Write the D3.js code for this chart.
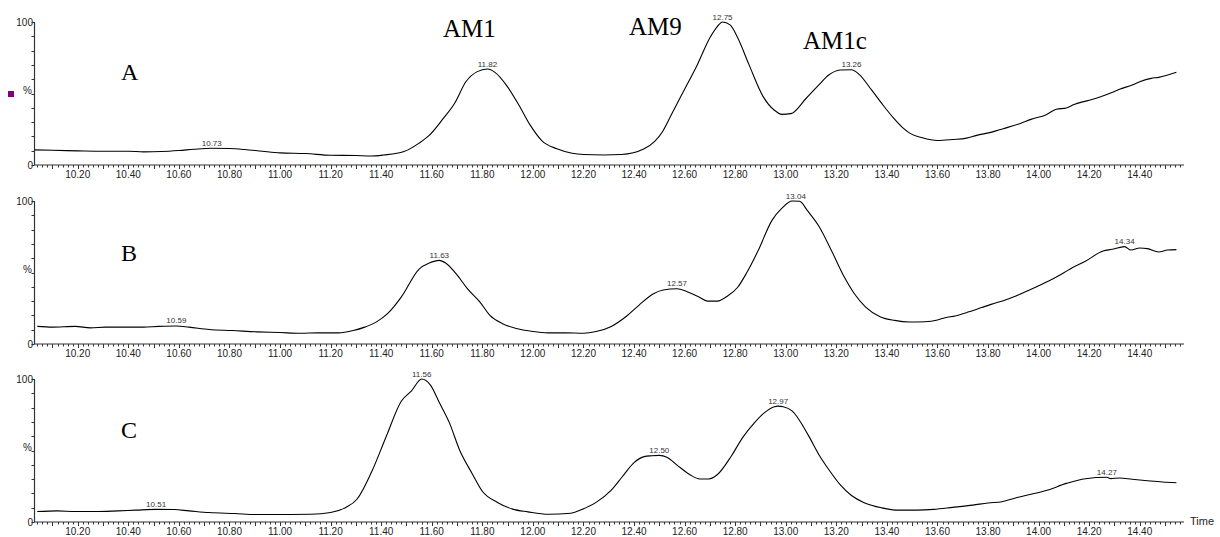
<!DOCTYPE html>
<html>
<head>
<meta charset="utf-8">
<script src="https://cdn.jsdelivr.net/npm/d3@7"></script>
<style>
  body { margin: 0; background: #fff; }
  svg { display: block; }
</style>
</head>
<body>
<svg id="chart" width="1220" height="537"></svg>
<script>
// retention time (min), relative intensity (%)
const traceA = [
  [10.03,10.6],[10.10,10.3],[10.20,9.9],[10.30,9.6],[10.40,9.6],[10.46,9.2],[10.53,9.4],[10.60,10.1],
  [10.66,11.0],[10.73,11.7],[10.80,11.5],[10.86,10.8],[10.93,9.6],[11.00,8.5],[11.10,8.0],[11.20,6.8],
  [11.30,6.6],[11.36,6.3],[11.41,7.0],[11.49,9.4],[11.55,15.3],[11.59,20.7],[11.645,32.4],[11.69,43],
  [11.735,58.2],[11.78,65.3],[11.82,67.1],[11.85,64.8],[11.895,55.9],[11.945,41.8],[11.99,27.7],
  [12.035,17.1],[12.095,11.3],[12.155,8.2],[12.20,7.3],[12.28,7.0],[12.35,7.3],[12.44,11.3],
  [12.515,24],[12.55,36],[12.60,53],[12.65,70],[12.70,89],[12.73,97],[12.75,100],[12.78,98],
  [12.81,89],[12.855,70],[12.91,48],[12.955,38.3],[12.985,35.4],[13.02,35.9],[13.08,46.5],[13.13,55.9],
  [13.17,62.9],[13.215,66.4],[13.26,66.6],[13.29,63.4],[13.34,52.3],[13.385,41.8],[13.425,33.1],
  [13.46,26.5],[13.49,22.3],[13.54,19],[13.60,17.1],[13.66,17.8],[13.715,18.8],[13.755,20.7],
  [13.815,23],[13.86,25.4],[13.925,28.9],[13.97,31.9],[14.03,35.2],[14.07,39],[14.11,39.9],
  [14.14,42.3],[14.20,45.3],[14.245,47.7],[14.29,50.7],[14.32,53],[14.37,55.9],[14.40,58.2],
  [14.445,60.6],[14.475,61.3],[14.545,64.8]
];
const traceB = [
  [10.04,12.3],[10.10,11.8],[10.19,12.3],[10.25,11.3],[10.31,11.8],[10.39,11.8],[10.46,11.8],[10.52,12.3],
  [10.59,12.6],[10.64,11.8],[10.72,10.1],[10.81,9.4],[10.91,8.5],[11.00,8.0],[11.08,7.5],[11.15,7.8],
  [11.23,7.8],[11.29,9.4],[11.335,11.8],[11.38,15.3],[11.425,21.2],[11.48,33],[11.55,52.4],[11.59,56.6],
  [11.63,58.5],[11.655,56.6],[11.70,48.3],[11.74,38.9],[11.79,29.5],[11.83,20],[11.88,14.2],[11.94,10.6],
  [12.00,8.7],[12.06,7.8],[12.13,7.8],[12.20,7.5],[12.25,8.7],[12.31,12.3],[12.37,19.4],[12.42,27.2],
  [12.475,35],[12.515,37.8],[12.57,38.6],[12.61,36.6],[12.655,33.1],[12.69,30],[12.73,30],[12.77,33.6],
  [12.81,39.7],[12.845,49.6],[12.89,65],[12.945,86.3],[12.985,95],[13.025,100],[13.055,99.8],[13.085,93.4],
  [13.13,82.7],[13.185,63.8],[13.23,47.3],[13.27,35.5],[13.315,26],[13.375,18.9],[13.43,16.5],[13.49,15.4],
  [13.55,15.6],[13.60,16.8],[13.63,18.4],[13.67,19.6],[13.725,22.5],[13.775,25.5],[13.815,27.9],
  [13.86,30.3],[13.91,33.6],[13.955,37.1],[14.00,40.7],[14.07,46.8],[14.125,52.5],[14.185,57.9],
  [14.255,65],[14.29,66.2],[14.34,68.1],[14.365,65.7],[14.40,67.1],[14.43,66.7],[14.475,64.3],
  [14.51,65.7],[14.545,66]
];
const traceC = [
  [10.04,7.3],[10.12,7.8],[10.19,7.3],[10.27,7.3],[10.36,7.8],[10.43,8.3],[10.51,8.8],[10.58,8.7],
  [10.64,7.8],[10.72,6.6],[10.82,5.9],[10.91,5.2],[11.00,5.2],[11.12,5.4],[11.20,6.6],[11.26,10.2],
  [11.305,16.1],[11.365,36.2],[11.42,59.8],[11.48,84.6],[11.52,91.7],[11.56,100],[11.595,95.7],
  [11.63,83.5],[11.67,69.3],[11.71,50.4],[11.76,33.8],[11.80,21.5],[11.86,13.7],[11.92,9],[11.98,7.1],
  [12.06,5.4],[12.15,6.1],[12.19,8.5],[12.25,13.7],[12.31,22.3],[12.355,32],[12.40,41.5],[12.44,45.7],
  [12.47,46.3],[12.50,46.6],[12.53,45.3],[12.57,39.8],[12.62,33.2],[12.66,30.1],[12.695,30.1],
  [12.73,33.2],[12.785,46.2],[12.83,59.2],[12.875,69.2],[12.915,76.3],[12.955,80.6],[12.97,81],
  [12.99,80.6],[13.025,77.7],[13.09,60.4],[13.13,47.4],[13.17,36.7],[13.215,26.1],[13.26,18.5],
  [13.31,13.5],[13.38,9.9],[13.445,8.3],[13.52,8.3],[13.585,8.8],[13.66,10.2],[13.74,11.8],[13.80,13.3],
  [13.855,14.2],[13.915,17.1],[13.97,19.4],[14.03,22],[14.11,27],[14.185,30.3],[14.27,31.3],
  [14.285,30.3],[14.32,30.8],[14.37,29.9],[14.43,28.9],[14.49,28],[14.545,27.5]
];

const peaksA = [10.73, 11.82, 12.75, 13.26];
const peaksB = [10.59, 11.63, 12.57, 13.04, 14.34];
const peaksC = [10.51, 11.56, 12.50, 12.97, 14.27];

const panelNames = ["A", "B", "C"];
const compounds = ["AM1", "AM9", "AM1c"];
const timeTicks = d3.range(10.2, 14.41, 0.2);

const panels = [
  { name: panelNames[0], trace: traceA, peaks: peaksA, top: 22 },
  { name: panelNames[1], trace: traceB, peaks: peaksB, top: 201 },
  { name: panelNames[2], trace: traceC, peaks: peaksC, top: 379 },
];

const svg = d3.select("#chart");
const sans = "'Liberation Sans', Arial, sans-serif";
const serif = "'Liberation Serif', 'Times New Roman', serif";
const axisColor = "#333";

const x = d3.scaleLinear().domain([10.027, 14.575]).range([34, 1184]);
const panelHeight = 143;

const minorTicks = d3.range(10.04, 14.575, 0.02).map((d) => +d.toFixed(2));

panels.forEach((p, i) => {
  const bottom = p.top + panelHeight;
  const y = d3.scaleLinear().domain([0, 100]).range([bottom, p.top]);
  const g = svg.append("g");

  // x axis
  g.append("line")
    .attr("x1", x.range()[0]).attr("x2", x.range()[1])
    .attr("y1", bottom).attr("y2", bottom)
    .attr("stroke", axisColor).attr("stroke-width", 1);

  g.append("g")
    .selectAll("line")
    .data(minorTicks)
    .join("line")
    .attr("x1", (d) => Math.round(x(d)) + 0.5)
    .attr("x2", (d) => Math.round(x(d)) + 0.5)
    .attr("y1", bottom)
    .attr("y2", (d) => bottom + (Math.abs(d * 10 - Math.round(d * 10)) < 1e-6 ? 4 : 2.5))
    .attr("stroke", axisColor)
    .attr("stroke-width", 1);

  g.append("g")
    .selectAll("text")
    .data(timeTicks)
    .join("text")
    .attr("x", (d) => x(d))
    .attr("y", bottom + 13)
    .attr("text-anchor", "middle")
    .attr("font-family", sans)
    .attr("font-size", 10)
    .attr("fill", "#222")
    .text((d) => d.toFixed(2));

  // y axis
  g.append("line")
    .attr("x1", 34.5).attr("x2", 34.5)
    .attr("y1", p.top).attr("y2", bottom)
    .attr("stroke", axisColor).attr("stroke-width", 1.2);

  g.append("g")
    .selectAll("line")
    .data(d3.range(0, 101, 10))
    .join("line")
    .attr("x1", 31.5).attr("x2", 34.5)
    .attr("y1", (d) => Math.round(y(d)) + 0.5)
    .attr("y2", (d) => Math.round(y(d)) + 0.5)
    .attr("stroke", axisColor);

  const yLab = g.append("g")
    .attr("font-family", sans)
    .attr("font-size", 10)
    .attr("fill", "#222")
    .attr("text-anchor", "end");
  yLab.append("text").attr("x", 33).attr("y", y(100) + 4).text("100");
  yLab.append("text").attr("x", 33).attr("y", y(0) + 4).text("0");
  yLab.append("text").attr("x", 32).attr("y", y(50)).text("%");

  // trace
  const line = d3.line()
    .x((d) => x(d[0]))
    .y((d) => y(d[1]))
    .curve(d3.curveMonotoneX);

  g.append("path")
    .datum(p.trace)
    .attr("d", line)
    .attr("fill", "none")
    .attr("stroke", "#000")
    .attr("stroke-width", 1.1);

  // peak labels
  g.append("g")
    .selectAll("text")
    .data(p.peaks)
    .join("text")
    .attr("x", (d) => x(d))
    .attr("y", (d) => {
      const near = p.trace.filter((q) => Math.abs(q[0] - d) <= 0.035);
      return y(d3.max(near, (q) => q[1])) - 2.5;
    })
    .attr("text-anchor", "middle")
    .attr("font-family", sans)
    .attr("font-size", 8)
    .attr("fill", "#333")
    .text((d) => d.toFixed(2));

  // panel letter
  g.append("text")
    .attr("x", 121)
    .attr("y", [80, 261, 438][i])
    .attr("font-family", serif)
    .attr("font-size", 24)
    .attr("fill", "#000")
    .text(p.name);
});

// compound names above panel A
svg.append("g")
  .attr("font-family", serif)
  .attr("font-size", 25)
  .attr("fill", "#000")
  .selectAll("text")
  .data(compounds)
  .join("text")
  .attr("x", (d, i) => [443, 629, 803][i])
  .attr("y", (d, i) => [37, 35, 49][i])
  .text((d) => d);

svg.append("text")
  .attr("x", 1190)
  .attr("y", 525)
  .attr("font-family", sans)
  .attr("font-size", 11)
  .attr("fill", "#222")
  .text("Time");

svg.append("rect")
  .attr("x", 8).attr("y", 91)
  .attr("width", 6).attr("height", 6)
  .attr("fill", "#800080");
</script>
</body>
</html>
